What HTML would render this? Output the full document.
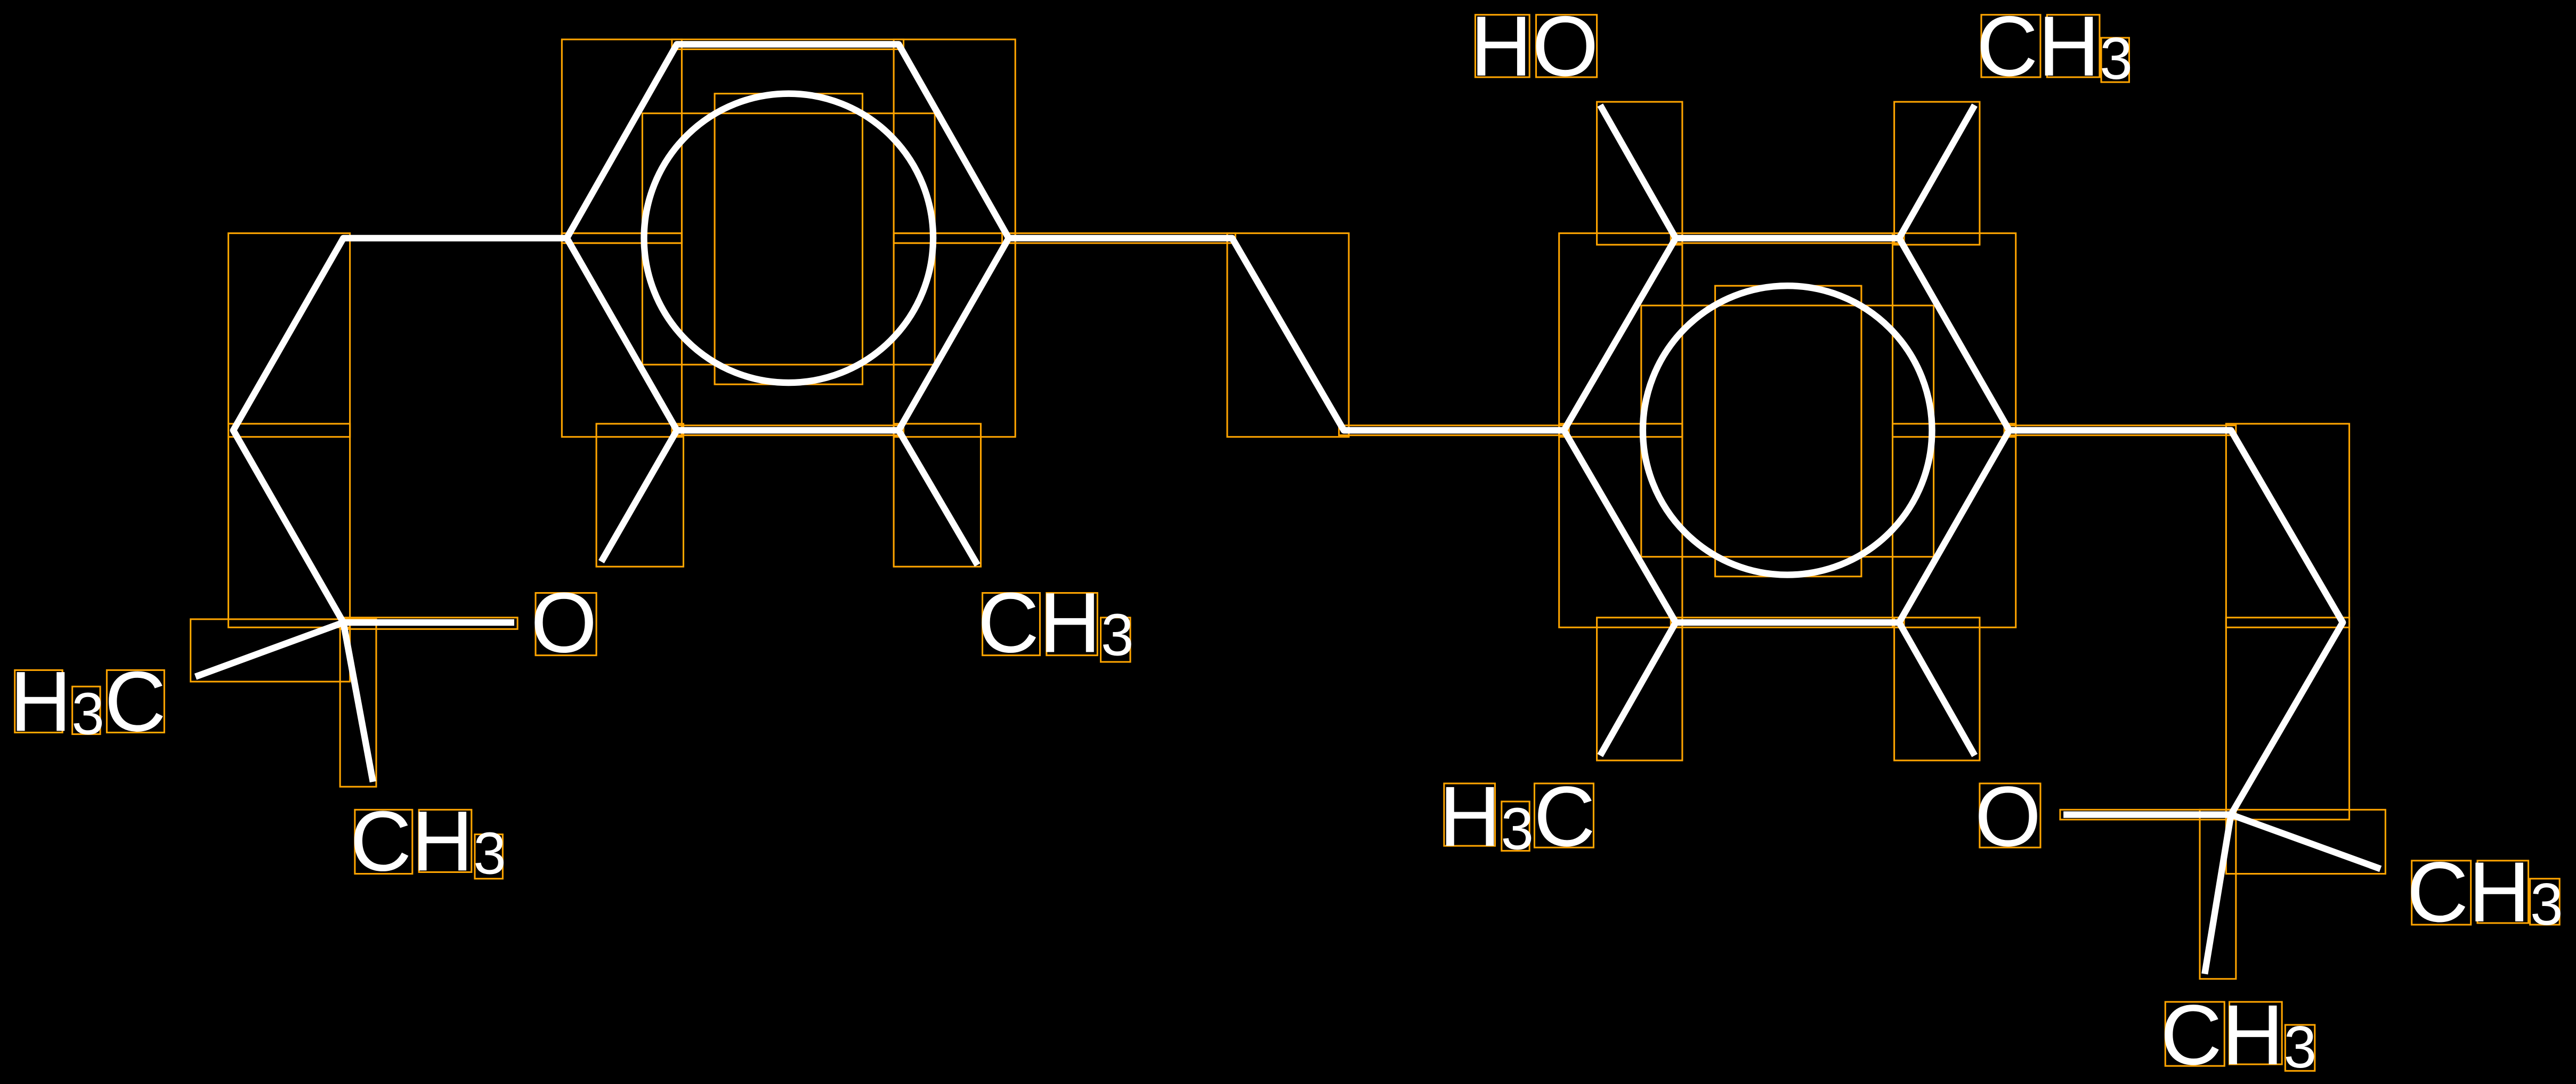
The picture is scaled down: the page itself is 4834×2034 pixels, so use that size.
<!DOCTYPE html>
<html><head><meta charset="utf-8"><style>html,body{margin:0;padding:0;background:#000;overflow:hidden}svg{display:block}</style></head>
<body>
<svg width="4834" height="2034" viewBox="0 0 1568 660" preserveAspectRatio="none" xmlns="http://www.w3.org/2000/svg">
<rect width="1568" height="660" fill="#000"/>
<g fill="none" stroke="#FFA500" stroke-width="1">
<rect x="139" y="142" width="74" height="124"/><rect x="139" y="258" width="74" height="124"/>
<rect x="116" y="377" width="97" height="38"/><rect x="207" y="377" width="22" height="102"/>
<rect x="207" y="376" width="108" height="7"/>
<rect x="342" y="24" width="73" height="124"/><rect x="342" y="142" width="73" height="124"/>
<rect x="409" y="24" width="141" height="6"/><rect x="544" y="24" width="74" height="124"/>
<rect x="544" y="142" width="74" height="124"/><rect x="409" y="259" width="141" height="6"/>
<rect x="391" y="69" width="178" height="153"/><rect x="435" y="57" width="90" height="177"/>
<rect x="342" y="142" width="73" height="6"/><rect x="544" y="142" width="74" height="6"/>
<rect x="363" y="258" width="53" height="87"/><rect x="544" y="258" width="53" height="87"/>
<rect x="610" y="142" width="142" height="6"/><rect x="747" y="142" width="74" height="124"/>
<rect x="815" y="259" width="140" height="6"/>
<rect x="949" y="142" width="75" height="124"/><rect x="949" y="258" width="75" height="124"/>
<rect x="1017" y="142" width="142" height="6"/><rect x="1152" y="142" width="75" height="124"/>
<rect x="1152" y="258" width="75" height="124"/><rect x="1017" y="376" width="142" height="6"/>
<rect x="999" y="186" width="178" height="153"/><rect x="1044" y="174" width="89" height="177"/>
<rect x="972" y="62" width="52" height="87"/><rect x="1153" y="62" width="52" height="87"/>
<rect x="972" y="376" width="52" height="87"/><rect x="1153" y="376" width="52" height="87"/>
<rect x="1220" y="259" width="141" height="6"/><rect x="1355" y="258" width="75" height="124"/>
<rect x="1355" y="376" width="75" height="123"/><rect x="1254" y="493" width="107" height="6"/>
<rect x="1355" y="493" width="97" height="39"/><rect x="1339" y="493" width="22" height="103"/>
<!-- text boxes -->
<rect x="9" y="408" width="29" height="38"/><rect x="44" y="418" width="17" height="29"/><rect x="65" y="408" width="35" height="38"/>
<rect x="216" y="493" width="35" height="39"/><rect x="255" y="493" width="32" height="38"/><rect x="289" y="508" width="17" height="27"/>
<rect x="326" y="361" width="37" height="38"/>
<rect x="598" y="361" width="35" height="38"/><rect x="637" y="361" width="31" height="38"/><rect x="670" y="376" width="18" height="27"/>
<rect x="898" y="9" width="33" height="38"/><rect x="935" y="9" width="37" height="38"/>
<rect x="1206" y="9" width="36" height="38"/><rect x="1246" y="9" width="32" height="38"/><rect x="1279" y="23" width="17" height="27"/>
<rect x="879" y="477" width="31" height="38"/><rect x="914" y="488" width="17" height="30"/><rect x="934" y="477" width="36" height="39"/>
<rect x="1205" y="477" width="37" height="39"/>
<rect x="1468" y="524" width="36" height="39"/><rect x="1508" y="524" width="31" height="38"/><rect x="1540" y="535" width="18" height="28"/>
<rect x="1318" y="610" width="36" height="39"/><rect x="1357" y="610" width="32" height="38"/><rect x="1391" y="624" width="18" height="28"/>
</g>
<g stroke="#fff" stroke-width="4" fill="none" stroke-linejoin="round">
<polygon points="412,27 547,27 614,145 547,262 412,262 345,145"/>
<circle cx="480" cy="145" r="88"/>
<polygon points="1020,145 1156,145 1223,262 1156,379 1020,379 952,262"/>
<circle cx="1088" cy="262" r="88"/>
<polyline points="345,145 209,145 142,262 209,379 313,379"/>
<line x1="209" y1="379" x2="119" y2="412"/><line x1="209" y1="379" x2="227" y2="476"/>
<line x1="412" y1="262" x2="366" y2="342"/><line x1="547" y1="262" x2="595" y2="344"/>
<polyline points="614,145 750,145 818,262 952,262"/>
<line x1="1020" y1="145" x2="974" y2="64"/><line x1="1156" y1="145" x2="1202" y2="64"/>
<line x1="1020" y1="379" x2="974" y2="460"/><line x1="1156" y1="379" x2="1202" y2="460"/>
<polyline points="1223,262 1358,262 1426,379 1358,496 1256,496"/>
<line x1="1358" y1="496" x2="1449" y2="529"/><line x1="1358" y1="496" x2="1342" y2="593"/>
</g>
<g fill="#fff" font-family="'Liberation Sans', sans-serif" font-size="52">
<text x="6" y="445">H<tspan font-size="36" dy="2">3</tspan><tspan dy="-2">C</tspan></text>
<text x="213" y="530">CH<tspan font-size="36" dy="2">3</tspan></text>
<text x="323" y="397">O</text>
<text x="595" y="397">CH<tspan font-size="36" dy="2">3</tspan></text>
<text x="895" y="46">HO</text>
<text x="1203" y="46">CH<tspan font-size="36" dy="2">3</tspan></text>
<text x="876" y="515">H<tspan font-size="36" dy="2">3</tspan><tspan dy="-2">C</tspan></text>
<text x="1202" y="515">O</text>
<text x="1465" y="561">CH<tspan font-size="36" dy="2">3</tspan></text>
<text x="1315" y="648">CH<tspan font-size="36" dy="2">3</tspan></text>
</g>
</svg>
</body></html>
